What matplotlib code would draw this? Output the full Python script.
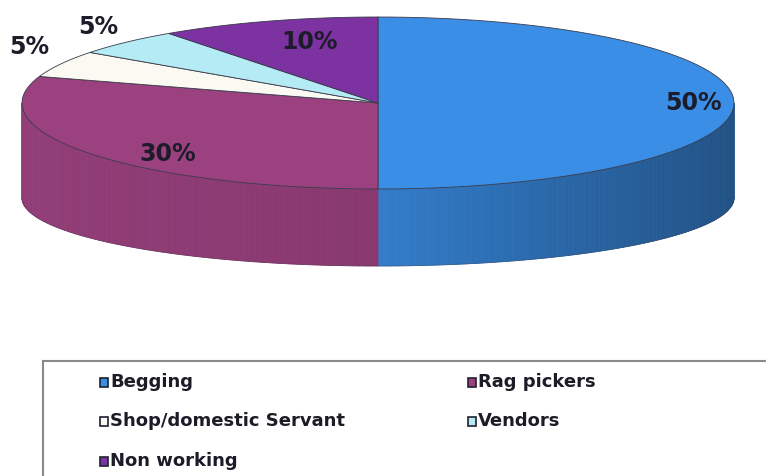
import matplotlib

matplotlib.use("Agg")
import matplotlib.pyplot as plt
import numpy as np
from matplotlib.patches import Polygon, Rectangle

# Occupazione dei bambini (percentuali)
labels = ["Begging", "Rag pickers", "Shop/domestic Servant", "Vendors", "Non working"]
values = [50, 30, 5, 5, 10]
colors = ["#3a8ee6", "#9b417f", "#fafaf2", "#b4ebf5", "#7d32a2"]

# geometria della torta 3D (pixel)
CX, CY = 378, 103
RX, RY = 356, 86
DEPTH = 95      # spessore ai bordi laterali
RY_BOT = 68     # base vista in prospettiva, più schiacciata

# posizione etichette: fattori radiali orizzontale/verticale per fetta
lab_fx = [0.885, 0.73, 1.10, 1.11, 0.62]
lab_fy = [1.0, 1.0, 1.43, 1.25, 0.75]


def ellipse_pts(t1, t2, n=80, ry=RY, dy=0):
    t = np.radians(np.linspace(t1, t2, n))
    return np.column_stack([CX + RX * np.cos(t), CY + dy - ry * np.sin(t)])


def shade(color, f):
    rgb = np.array(matplotlib.colors.to_rgb(color))
    return np.clip(rgb * f, 0, 1)


fig = plt.figure(figsize=(7.66, 4.76), dpi=100)
ax = fig.add_axes([0, 0, 1, 1])
ax.set_xlim(0, 766)
ax.set_ylim(476, 0)
ax.axis("off")

fracs = np.array(values) / np.sum(values)
cum = np.concatenate([[0], np.cumsum(fracs)])
starts = 90 - 360 * cum[:-1]
ends = 90 - 360 * cum[1:]

# pareti laterali (solo la metà frontale è visibile)
for s, e, col in zip(starts, ends, colors):
    lo, hi = max(e, -180), min(s, 0)
    if lo >= hi:
        continue
    steps = np.linspace(hi, lo, max(int(hi - lo), 2))
    for a1, a2 in zip(steps[:-1], steps[1:]):
        top = ellipse_pts(a1, a2, 4)
        bot = ellipse_pts(a2, a1, 4, ry=RY_BOT, dy=DEPTH)
        c_mid = np.cos(np.radians((a1 + a2) / 2))
        f = 0.88 - 0.3 * c_mid if c_mid > 0 else 0.88 - 0.06 * c_mid
        c = shade(col, f)
        ax.add_patch(Polygon(np.vstack([top, bot]), closed=True, facecolor=c,
                             edgecolor=c, lw=0.6))
    bot = ellipse_pts(hi, lo, ry=RY_BOT, dy=DEPTH)
    ax.plot(bot[:, 0], bot[:, 1], color="#3a3040", lw=0.5, alpha=0.4)

# facce superiori
for s, e, col in zip(starts, ends, colors):
    pts = np.vstack([[CX, CY], ellipse_pts(s, e)])
    ax.add_patch(Polygon(pts, closed=True, facecolor=col, edgecolor="#3a3a4a",
                         lw=0.6))

# etichette percentuali
for s, e, v, fx, fy in zip(starts, ends, values, lab_fx, lab_fy):
    m = np.radians((s + e) / 2)
    x = CX + RX * fx * np.cos(m)
    y = CY - RY * fy * np.sin(m)
    ax.text(x, y, f"{v}%", ha="center", va="center", fontsize=17,
            fontweight="bold", color="#1c1c2a")

# legenda
ax.add_patch(Rectangle((43, 361), 740, 130, facecolor="white",
                       edgecolor="#8a8a8a", lw=1.5))
leg_x = [100, 468]
leg_y = [382, 421, 461]
for i, (lab, col) in enumerate(zip(labels, colors)):
    x = leg_x[i % 2]
    y = leg_y[i // 2]
    ax.add_patch(Rectangle((x, y - 4.5), 8, 9, facecolor=col,
                           edgecolor="#202030", lw=1.2))
    ax.text(x + 10, y, lab, ha="left", va="center", fontsize=13,
            fontweight="bold", color="#1c1c28")

fig.savefig("out.png", dpi=100)
plt.close(fig)
